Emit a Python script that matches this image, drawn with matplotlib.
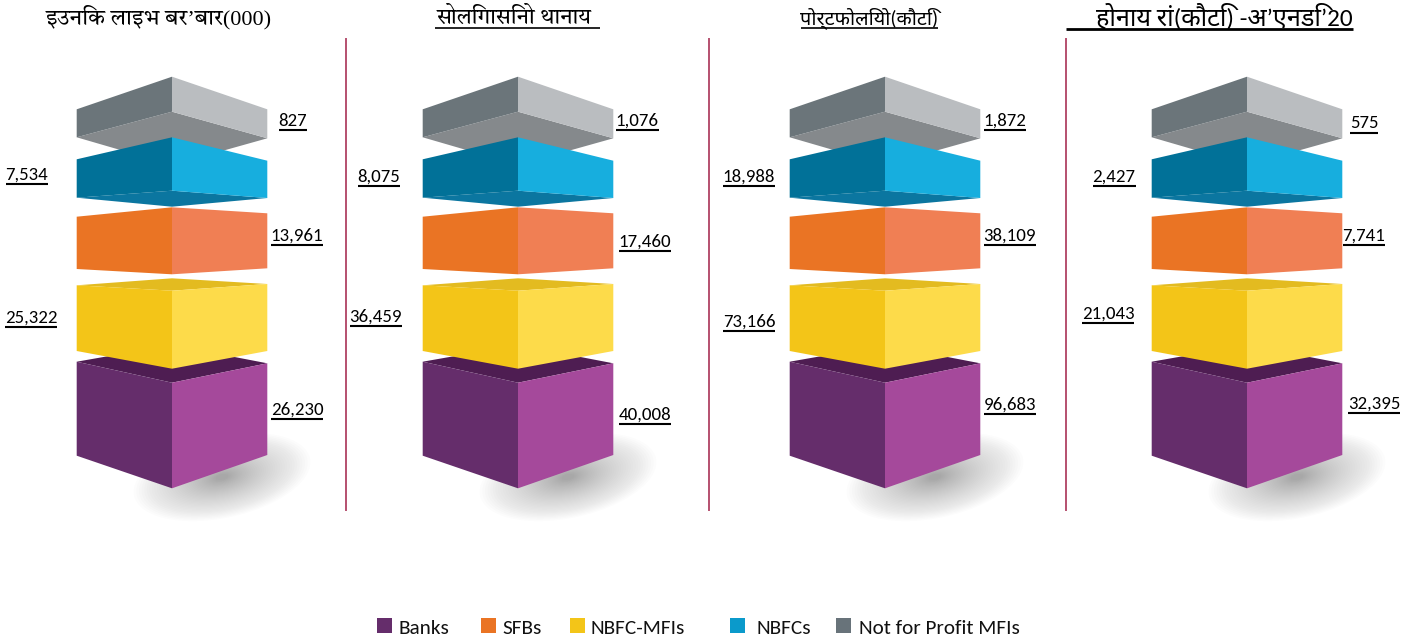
import numpy as np
import matplotlib
matplotlib.use('Agg')
from matplotlib import pyplot as plt
from matplotlib.patches import Polygon, Rectangle, Ellipse

plt.rcParams['font.family'] = ['Carlito', 'Lato', 'Noto Sans', 'DejaVu Sans']

TITLES = ['इउनिक लाइभ बर’बार(000)', 'सोलिगासिनो थानाय', 'पोर्टफोलियो(कौटि)', 'होनाय रां(कौटि) -अ’एनडि’20']
CATEGORIES = ['Banks', 'SFBs', 'NBFC-MFIs', 'NBFCs', 'Not for Profit MFIs']
BANKS = ['26,230', '40,008', '96,683', '32,395']
SFBS = ['13,961', '17,460', '38,109', '7,741']
NBFC_MFIS = ['25,322', '36,459', '73,166', '21,043']
NBFCS = ['7,534', '8,075', '18,988', '2,427']
NOT_FOR_PROFIT = ['827', '1,076', '1,872', '575']
LEGEND_COLORS = ['#652d6b', '#ea7424', '#f3c518', '#0b9acb', '#68737a']

# pixel layout of the figure
centers = [172, 518, 885, 1247]
separators = [346, 709, 1066]
legend_x = [377, 481, 570, 730, 836]
legend_text_x = [398, 502, 591, 757, 859]
title_x = [159, 514, 869, 1224]
title_y = [17, 18, 18, 16]
title_size = [16, 15.8, 14.3, 18.2]
title_rule = [None, (435, 600, 27.5, 1.2), (801, 938, 28, 1.2), (1066, 1353, 29, 2)]
serif = ['Liberation Serif', 'Tiro Devanagari Hindi', 'FreeSerif', 'Noto Serif Devanagari', 'Noto Sans']
sans = ['Carlito', 'Noto Sans Devanagari', 'Hind', 'Noto Sans']
title_font = [serif, serif, sans, sans]
hw = 95.3

blocks = [
    dict(left=(361.7, 382.7, 455.7), right=(363.3, 382.7, 455.0), center_bot=488.3,
         extra=[(-1, 361.7), (0, 345), (1, 363.3), (0, 382.7)], colors=('#652d6b', '#a5499b', '#4e1d52')),
    dict(left=(285.3, 290.7, 351), right=(284, 290.7, 351), center_bot=368.7,
         extra=[(-1, 285.3), (0, 278.3), (1, 284), (0, 290.7)], colors=('#f3c518', '#fddb4a', '#e3bb20')),
    dict(left=(216.7, 207.3, 269), right=(213.3, 207.3, 268.3), center_bot=274.3,
         extra=None, colors=('#ea7424', '#f07f54', None)),
    dict(left=(109.3, 76.7, 137.3), right=(109.3, 76.7, 138.3), center_bot=111.7,
         extra=[(-1, 137.3), (0, 111.7), (1, 138.3), (0, 165)], colors=('#6b757a', '#babdc0', '#85898c')),
    dict(left=(159.3, 137.3, 197.7), right=(160.7, 137.3, 198), center_bot=190.7,
         extra=[(-1, 197.7), (0, 190.7), (1, 198), (0, 206.7)], colors=('#017198', '#17aede', '#0b76a0')),
]

# label centres per panel, same order as the value lists
banks_pos = [(297, 409), (645, 414), (1010, 404), (1374, 403)]
sfbs_pos = [(297, 235), (645, 241), (1010, 235), (1364, 235)]
mfis_pos = [(31, 317), (376, 316), (749, 321), (1108, 313)]
nbfcs_pos = [(27, 174), (379, 176), (749, 176), (1114, 176)]
npf_pos = [(293, 120), (637, 120), (1005, 120), (1364, 123)]

fig = plt.figure(figsize=(14.19, 6.43), dpi=100)
ax = fig.add_axes([0, 0, 1, 1])
ax.set_xlim(0, 1419)
ax.set_ylim(643, 0)
ax.axis('off')


def underlined(x, y, s, **kw):
    t = ax.text(x, y + 0.5, s, ha='center', va='center', **kw)
    bb = t.get_window_extent(fig.canvas.get_renderer())
    ax.plot([bb.x0, bb.x1], [y + 9.5, y + 9.5], color='k', lw=1.5, solid_capstyle='butt')
    return t


for cx in centers:
    # soft shadow under the stack
    for k in np.linspace(1, 0.15, 40)**1.4:
        ax.add_patch(Ellipse((cx + 50, 477), 180*k, 82*k, angle=-12, fc='#404040', ec='none', alpha=0.012, zorder=1))
    for b in blocks:
        l, r = b['left'], b['right']
        cl, cr, c3 = b['colors']
        if b['extra'] is not None:
            pts = [(cx + sx*hw, y) for sx, y in b['extra']]
            ax.add_patch(Polygon(pts, fc=c3, ec='none', zorder=2))
        ax.add_patch(Polygon([(cx - hw, l[0]), (cx, l[1]), (cx, b['center_bot']), (cx - hw, l[2])],
                             fc=cl, ec='none', zorder=2))
        ax.add_patch(Polygon([(cx, r[1]), (cx + hw, r[0]), (cx + hw, r[2]), (cx, b['center_bot'])],
                             fc=cr, ec='none', zorder=2))

for x in separators:
    ax.plot([x, x], [39, 510], color='#b5506f', lw=1.4)

for vals, pos in zip([BANKS, SFBS, NBFC_MFIS, NBFCS, NOT_FOR_PROFIT],
                     [banks_pos, sfbs_pos, mfis_pos, nbfcs_pos, npf_pos]):
    for v, (x, y) in zip(vals, pos):
        underlined(x, y, v, fontsize=13.6, color='k')

for x, y, s, size, font, rule in zip(title_x, title_y, TITLES, title_size, title_font, title_rule):
    ax.text(x, y, s, ha='center', va='center', fontsize=size, family=font, color='k')
    if rule is not None:
        ax.plot(rule[:2], [rule[2], rule[2]], color='k', lw=rule[3], solid_capstyle='butt')

for x, tx, s, c in zip(legend_x, legend_text_x, CATEGORIES, LEGEND_COLORS):
    ax.add_patch(Rectangle((x, 618), 15, 15, fc=c, ec='none'))
    ax.text(tx, 628, s, ha='left', va='center', fontsize=15.3, color='#111111')

fig.savefig('out.png', dpi=100)
